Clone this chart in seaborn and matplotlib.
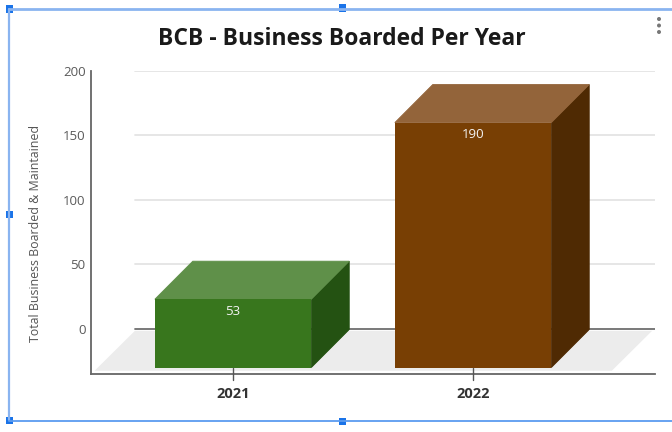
import matplotlib
matplotlib.use("Agg")
import pandas as pd
import seaborn as sb
from matplotlib import pyplot as plt
from matplotlib.lines import Line2D
from matplotlib.patches import Ellipse, Polygon, Rectangle

years = ["2021", "2022"]
boarded = [53, 190]
y_ticks = [0, 50, 100, 150, 200]
front_colors = ["#38761d", "#783f04"]
top_colors = ["#5f9049", "#93643a"]
side_colors = ["#245212", "#4f2a03"]

W, H = 672, 432
depth_x = 0.158  # in category units
depth_y = 29.5  # in value units
base = -30

sb.set_style("white")
plt.rcParams["font.family"] = ["Open Sans", "DejaVu Sans"]

df = pd.DataFrame({"year": years, "boarded": boarded})

fig = plt.figure(figsize=(W / 100, H / 100), dpi=100, facecolor="white")
ax = fig.add_axes([91 / W, 1 - 374 / H, (655 - 91) / W, (374 - 71) / H])

# * front faces
sb.barplot(
    data=df,
    x="year",
    y="boarded",
    hue="year",
    palette=front_colors,
    width=0.652,
    bottom=base,
    saturation=1,
    linewidth=0,
    legend=False,
    ax=ax,
    zorder=4,
)
ax.set_xlim(-0.592, 1.758)
ax.set_ylim(-35, 200)

# * back wall grid and floor
left_wall = ax.get_xlim()[0] + 0.183
right_wall = ax.get_xlim()[1]
for tick in y_ticks:
    ax.plot(
        [left_wall, right_wall],
        [tick, tick],
        color="#6e6e6e" if tick == 0 else "#e4e4e4",
        lw=1.3,
        zorder=1,
    )
floor_top = -1.5
floor_bottom = floor_top - depth_y - 1.5
ax.add_patch(
    Polygon(
        [
            (left_wall, floor_top),
            (right_wall - 0.012, floor_top),
            (right_wall - 0.012 - depth_x - 0.01, floor_bottom),
            (left_wall - depth_x - 0.01, floor_bottom),
        ],
        facecolor="#ececec",
        edgecolor="none",
        zorder=2,
    )
)

# * 3d faces follow the front bars, edge in face colour closes the seams
for i, bar in enumerate(ax.patches[: len(years)]):
    x0, x1 = bar.get_x(), bar.get_x() + bar.get_width()
    y0, y1 = bar.get_y(), bar.get_y() + bar.get_height()
    ax.add_patch(
        Polygon(
            [(x1, y0), (x1 + depth_x, y0 + depth_y), (x1 + depth_x, y1 + depth_y), (x1, y1)],
            facecolor=side_colors[i],
            edgecolor=side_colors[i],
            lw=0.6,
            zorder=3,
        )
    )
    ax.add_patch(
        Polygon(
            [(x0, y1), (x1, y1), (x1 + depth_x, y1 + depth_y), (x0 + depth_x, y1 + depth_y)],
            facecolor=top_colors[i],
            edgecolor=top_colors[i],
            lw=0.6,
            zorder=3,
        )
    )
    ax.annotate(
        str(boarded[i]),
        (i, y1),
        xytext=(0, -8.5),
        textcoords="offset points",
        ha="center",
        va="center",
        color="#f4f4f4",
        fontsize=9.5,
        zorder=5,
    )

# * axes
for side in ["top", "right"]:
    ax.spines[side].set_visible(False)
for side in ["left", "bottom"]:
    ax.spines[side].set_color("#666666")
    ax.spines[side].set_linewidth(1.3)
ax.set_yticks(y_ticks)
ax.tick_params(axis="y", length=0, pad=4, labelsize=9.5, labelcolor="#5a5a5a")
ax.tick_params(axis="x", length=0, pad=9.5, labelsize=10.5)
for label in ax.get_xticklabels():
    label.set_fontweight("bold")
    label.set_color("#333333")
for i in range(len(years)):
    ax.plot([i, i], [base, -39.5], color="#555555", lw=1, clip_on=False, zorder=6)
ax.set_xlabel("")
ax.set_ylabel("")
fig.text(36 / W, 1 - 233 / H, "Total Business Boarded & Maintained", rotation=90, ha="center",
         va="center", fontsize=8.9, color="#555555")
fig.text(342 / W, 1 - 39 / H, "BCB - Business Boarded Per Year", ha="center", va="center",
         fontsize=16.5, fontweight="bold", color="#1a1a1a")


# * editor selection frame, positions in picture pixels
def frame_line(x0, y0, x1, y1, color="#8ab4f0", lw=1.6):
    fig.add_artist(Line2D([x0 / W, x1 / W], [1 - y0 / H, 1 - y1 / H], color=color, lw=lw))


frame_line(9, 8.5, W, 8.5, lw=2)
frame_line(9, 8.5, 9, 420)
frame_line(9, 420.5, W, 420.5, color="#5b9bf0", lw=1.3)
for hx, hy in [(9, 9), (342, 8), (9, 214), (9, 420), (342, 421)]:
    fig.add_artist(Rectangle(((hx - 3.5) / W, 1 - (hy + 3.5) / H), 7 / W, 7 / H,
                             transform=fig.transFigure, facecolor="#1a73e8", edgecolor="none"))
for hy in [19, 25.5, 32]:
    fig.add_artist(Ellipse((659 / W, 1 - hy / H), 4 / W, 4 / H,
                           transform=fig.transFigure, facecolor="#777777", edgecolor="none"))

fig.savefig("out.png", dpi=100, facecolor="white")
